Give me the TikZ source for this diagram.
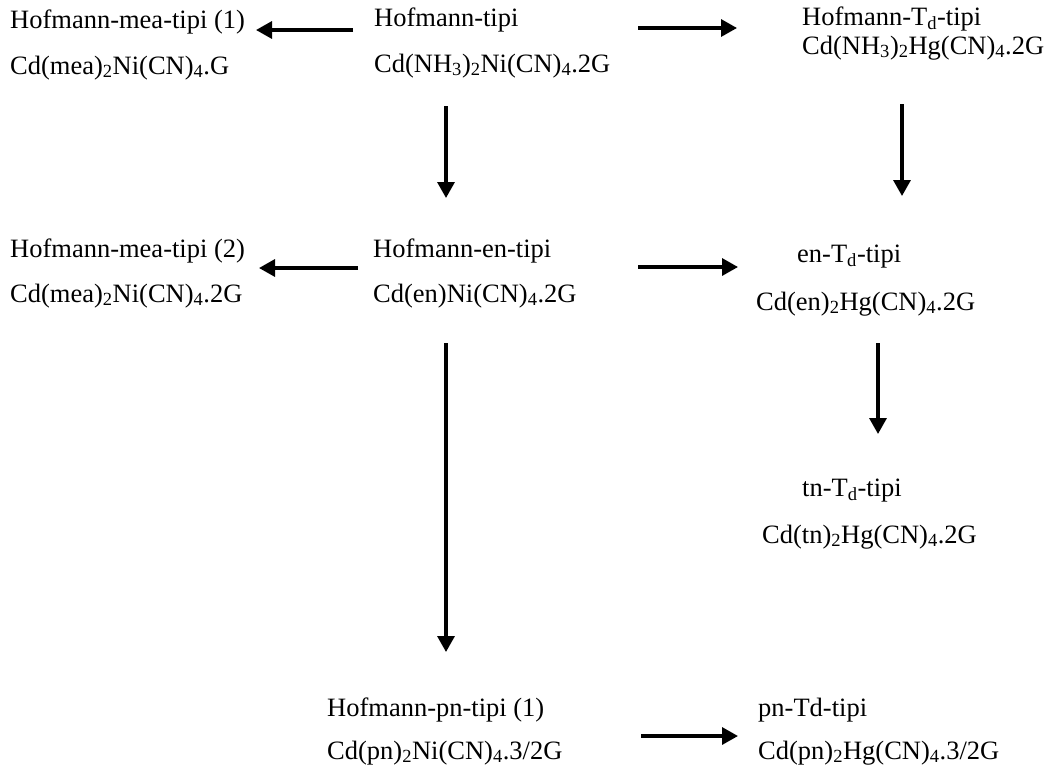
\documentclass[tikz,border=0pt]{standalone}
\usepackage{fontspec}
\setmainfont{Liberation Serif}
\usetikzlibrary{arrows.meta}
\newcommand{\lowr}[1]{\textsubscript{#1}}
\tikzset{
  lbl/.style={anchor=base west, inner sep=0pt, font=\fontsize{26.5}{30}\selectfont},
  conv/.style={line width=3.3pt, -{Triangle[length=16pt,width=17pt]}}
}
\begin{document}
\begin{tikzpicture}[x=1pt,y=-1pt]
\useasboundingbox[fill=white] (0,0) rectangle (1048,769);

% first row
\node[lbl] (mea1)  at (10,28)  {Hofmann-mea-tipi (1)};
\node[lbl] (mea1f) at (10,74)  {Cd(mea)\lowr{2}Ni(CN)\lowr{4}.G};
\node[lbl] (hof)   at (374,26) {Hofmann-tipi};
\node[lbl] (hoff)  at (374,72) {Cd(NH\lowr{3})\lowr{2}Ni(CN)\lowr{4}.2G};
\node[lbl] (hoftd) at (802,25) {Hofmann-T\lowr{d}-tipi};
\node[lbl] (hoftdf) at (802,54) {Cd(NH\lowr{3})\lowr{2}Hg(CN)\lowr{4}.2G};

% second row
\node[lbl] (mea2)  at (10,257)  {Hofmann-mea-tipi (2)};
\node[lbl] (mea2f) at (10,302)  {Cd(mea)\lowr{2}Ni(CN)\lowr{4}.2G};
\node[lbl] (en)    at (373,257) {Hofmann-en-tipi};
\node[lbl] (enf)   at (373,302) {Cd(en)Ni(CN)\lowr{4}.2G};
\node[lbl] (entd)  at (797,262) {en-T\lowr{d}-tipi};
\node[lbl] (entdf) at (756,310) {Cd(en)\lowr{2}Hg(CN)\lowr{4}.2G};

% tn branch
\node[lbl] (tntd)  at (802,496) {tn-T\lowr{d}-tipi};
\node[lbl] (tntdf) at (762,543) {Cd(tn)\lowr{2}Hg(CN)\lowr{4}.2G};

% bottom row
\node[lbl] (pn)    at (327,716) {Hofmann-pn-tipi (1)};
\node[lbl] (pnf)   at (327,759) {Cd(pn)\lowr{2}Ni(CN)\lowr{4}.3/2G};
\node[lbl] (pntd)  at (758,716) {pn-Td-tipi};
\node[lbl] (pntdf) at (758,759) {Cd(pn)\lowr{2}Hg(CN)\lowr{4}.3/2G};

% arrow end points
\coordinate (a1s) at (353,30);  \coordinate (a1e) at (256,30);
\coordinate (a2s) at (638,28);  \coordinate (a2e) at (737,28);
\coordinate (a3s) at (446,106); \coordinate (a3e) at (446,198);
\coordinate (a4s) at (902,104); \coordinate (a4e) at (902,196);
\coordinate (a5s) at (358,268); \coordinate (a5e) at (259,268);
\coordinate (a6s) at (638,267); \coordinate (a6e) at (738,267);
\coordinate (a7s) at (446,343); \coordinate (a7e) at (446,652);
\coordinate (a8s) at (878,343); \coordinate (a8e) at (878,434);
\coordinate (a9s) at (641,736); \coordinate (a9e) at (738,736);

\draw[conv] (a1s) -- (a1e);
\draw[conv] (a2s) -- (a2e);
\draw[conv] (a3s) -- (a3e);
\draw[conv] (a4s) -- (a4e);
\draw[conv] (a5s) -- (a5e);
\draw[conv] (a6s) -- (a6e);
\draw[conv] (a7s) -- (a7e);
\draw[conv] (a8s) -- (a8e);
\draw[conv] (a9s) -- (a9e);
\end{tikzpicture}
\end{document}
